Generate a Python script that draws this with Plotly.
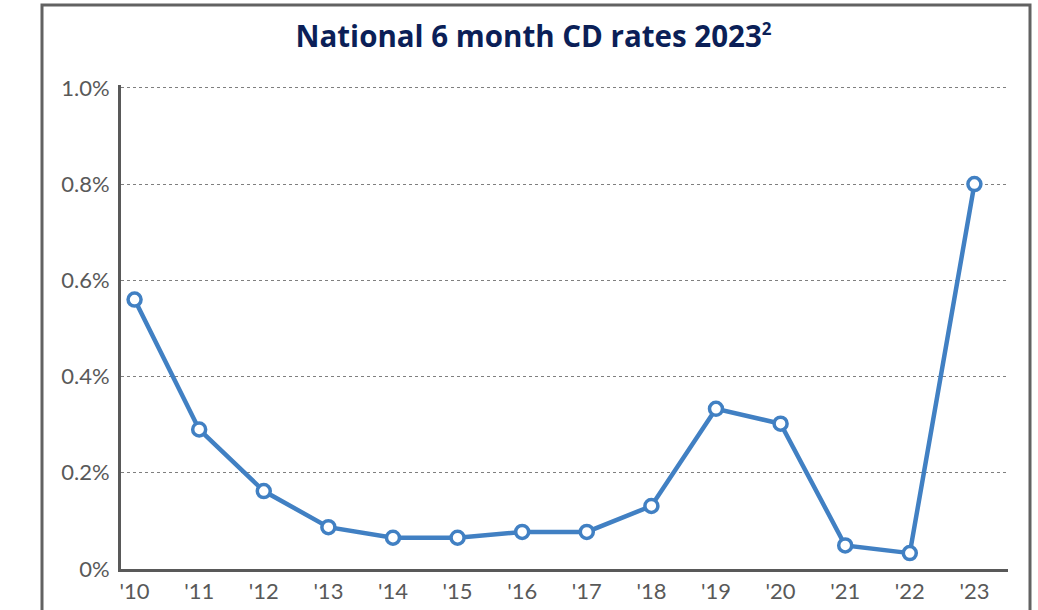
import plotly.graph_objects as go

years = ["'10", "'11", "'12", "'13", "'14", "'15", "'16", "'17", "'18", "'19", "'20", "'21", "'22", "'23"]
rates = [0.56, 0.29, 0.162, 0.087, 0.065, 0.065, 0.077, 0.077, 0.131, 0.333, 0.302, 0.049, 0.033, 0.80]
y_ticks = [0, 0.2, 0.4, 0.6, 0.8, 1.0]
y_tick_labels = ["0%", "0.2%", "0.4%", "0.6%", "0.8%", "1.0%"]

BLUE = "#4180C3"
GRAY = "#595959"
NAVY = "#0B1F57"

fig = go.Figure()
fig.add_trace(go.Scatter(
    x=years, y=rates, mode="lines+markers",
    line=dict(color=BLUE, width=4.5),
    marker=dict(symbol="circle", size=13, color="white", line=dict(color=BLUE, width=3.5)),
    cliponaxis=False, showlegend=False,
))

fig.update_layout(
    width=1038, height=610,
    margin=dict(l=121, r=30, t=85, b=41),
    paper_bgcolor="white", plot_bgcolor="white",
    font=dict(family="Lato", color=GRAY, size=22),
    title=dict(text="National 6 month CD rates 2023<sup><span style='font-size:17px'>2</span></sup>",
               font=dict(family="Open Sans", size=29.5, color=NAVY, weight=700),
               x=0.514, xanchor="center", y=0.94, yanchor="middle"),
    xaxis=dict(type="category", range=[-0.21, 13.52], showgrid=False, automargin=False,
               showline=True, linecolor=GRAY, linewidth=3, ticks="",
               ticklabelstandoff=1, tickfont=dict(size=22, color=GRAY)),
    yaxis=dict(range=[0, 1.006], tickvals=y_ticks, ticktext=y_tick_labels, automargin=False,
               showgrid=True, gridcolor="#7f7f7f", gridwidth=1, griddash="3px,3px",
               showline=True, linecolor=GRAY, linewidth=3, ticks="",
               zeroline=False, ticklabelstandoff=4, tickfont=dict(size=22, color=GRAY)),
    shapes=[dict(type="rect", xref="paper", yref="paper",
                 x0=(42 - 121) / 887, x1=(1030 - 121) / 887,
                 y0=-0.2, y1=(569 - 5) / 484,
                 line=dict(color="#626262", width=3), fillcolor="rgba(0,0,0,0)", layer="below")],
)

fig.write_html("out.html", config={"displayModeBar": False},
               post_script="document.body.style.margin='0';document.body.style.overflow='hidden';")
